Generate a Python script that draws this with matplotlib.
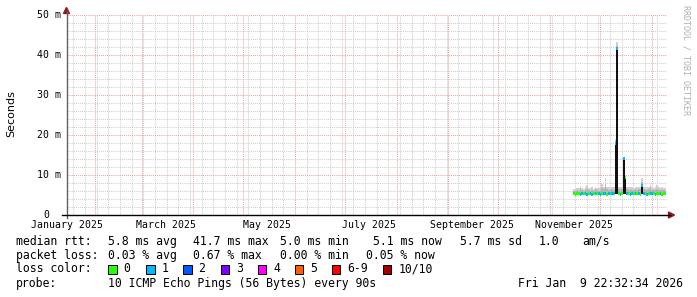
import matplotlib
matplotlib.use('Agg')
import matplotlib.pyplot as plt
import matplotlib.dates as mdates
from matplotlib.ticker import MultipleLocator
from matplotlib.patches import Rectangle, Polygon
import pandas as pd
from datetime import datetime

# ---------------- data ----------------
start = datetime(2025, 1, 14, 22, 32, 34)
end = datetime(2026, 1, 9, 22, 32, 34)

y_ticks = [0, 10, 20, 30, 40, 50]
y_tick_labels = ['0', '10 m', '20 m', '30 m', '40 m', '50 m']

month_labels = ['January 2025', 'March 2025', 'May 2025', 'July 2025',
                'September 2025', 'November 2025']
month_label_dates = ['2025-01-15 12:00', '2025-03-15 12:00', '2025-05-15 12:00',
                     '2025-07-15 12:00', '2025-09-15 12:00', '2025-11-15 12:00']

day_dates = pd.date_range('2025-11-14 22:32', periods=56, freq='D')

median_ms = [5.3, 5.2, 5.3, 5.3, 5.2, 5.3, 5.4, 5.3, 5.2, 5.3,
             5.3, 5.2, 5.3, 5.4, 5.3, 5.3, 5.2, 5.3, 5.3, 5.3,
             5.2, 5.3, 5.4, 5.3, 5.3, 18.0, 41.7, 5.3, 5.2, 5.3,
             14.2, 9.3, 5.3, 5.3, 5.2, 5.3, 5.3, 5.4, 5.3, 5.3,
             5.2, 7.5, 5.3, 5.3, 5.2, 5.3, 5.3, 5.4, 5.3, 5.2,
             5.3, 5.3, 5.3, 5.2, 5.3, 5.3]

smoke_mid = [6.1, 6.0, 6.2, 6.1, 6.4, 6.2, 6.1, 6.3, 6.6, 6.2,
             6.1, 6.3, 6.1, 6.4, 6.2, 6.1, 6.3, 6.7, 6.4, 7.6,
             6.4, 6.3, 6.2, 6.4, 6.3, 18.5, 42.3, 6.4, 6.3, 6.5,
             14.4, 9.7, 6.4, 6.3, 6.5, 6.3, 6.2, 6.4, 6.3, 6.5,
             6.4, 8.2, 6.4, 6.2, 6.3, 6.4, 6.8, 6.3, 6.2, 6.3,
             6.6, 6.3, 6.2, 6.3, 6.2, 6.1]

smoke_hi = [6.6, 6.5, 6.8, 6.7, 7.3, 6.8, 6.6, 6.9, 7.6, 6.8,
            6.7, 6.9, 6.6, 7.0, 6.8, 6.7, 6.9, 7.7, 7.0, 9.2,
            7.0, 6.9, 6.8, 7.0, 6.9, 19.0, 43.3, 7.0, 6.9, 7.1,
            14.6, 10.0, 7.0, 6.9, 7.1, 6.9, 6.8, 7.0, 6.9, 7.1,
            7.0, 9.2, 7.0, 6.8, 6.9, 7.0, 7.6, 6.9, 6.8, 6.9,
            7.4, 6.9, 6.8, 6.9, 6.8, 6.7]

smoke_lo = [5.0, 5.0, 5.0, 5.0, 5.0, 5.0, 5.0, 5.0, 5.0, 5.0,
            5.0, 5.0, 5.0, 5.0, 5.0, 5.0, 5.0, 5.0, 5.0, 5.0,
            5.0, 5.0, 5.0, 5.0, 5.0, 5.2, 5.2, 5.0, 5.0, 5.0,
            5.2, 5.2, 5.0, 5.0, 5.0, 5.0, 5.0, 5.0, 5.0, 5.0,
            5.0, 5.2, 5.0, 5.0, 5.0, 5.0, 5.0, 5.0, 5.0, 5.0,
            5.0, 5.0, 5.0, 5.0, 5.0, 5.0]

loss = [0, 0, 0, 0, 1, 1, 0, 1, 1, 0,
        1, 1, 0, 1, 0, 1, 1, 0, 1, 1,
        0, 1, 0, 1, 1, 1, 1, 0, 1, 0,
        1, 0, 1, 0, 1, 1, 0, 1, 0, 1,
        0, 1, 1, 0, 1, 0, 1, 1, 0, 1,
        0, 0, 1, 0, 0, 0]

loss_colors = ['#26ff00', '#00b8ff', '#0059ff', '#7e00ff',
               '#ff00ff', '#ff5e00', '#ff0000', '#a10000']
loss_color_labels = ['0', '1', '2', '3', '4', '5', '6-9', '10/10']

rtt_stats = ['5.8 ms avg', '41.7 ms max', '5.0 ms min', '5.1 ms now',
             '5.7 ms sd', '1.0', 'am/s']
loss_stats = ['0.03 % avg', '0.67 % max', '0.00 % min', '0.05 % now']
probe_text = '10 ICMP Echo Pings (56 Bytes) every 90s'
stamp_text = 'Fri Jan  9 22:32:34 2026'

# ---------------- drawing ----------------
W, H = 697, 297
MONO = 'DejaVu Sans Mono'
fig = plt.figure(figsize=(W / 100, H / 100), dpi=100)
fig.patch.set_facecolor('white')

L, R, T, B = 66.5, 666.5, 15, 215
ax = fig.add_axes([L / W, 1 - B / H, (R - L) / W, (B - T) / H])
ax.set_facecolor('white')
ax.set_xlim(start, end)
ax.set_ylim(0, 50)
for s in ax.spines.values():
    s.set_visible(False)
ax.tick_params(which='both', length=0, labelbottom=False, labelleft=False)
ax.xaxis.set_major_locator(mdates.MonthLocator())
ax.xaxis.set_minor_locator(mdates.WeekdayLocator(byweekday=mdates.SU))
ax.yaxis.set_major_locator(MultipleLocator(10))
ax.yaxis.set_minor_locator(MultipleLocator(2))
ax.grid(which='minor', color='#cfcfcf', linestyle=(0, (1, 1)), linewidth=0.75)
ax.grid(which='major', color='#f2a0a0', linestyle=(0, (1, 1)), linewidth=0.75)
ax.set_axisbelow(True)

# smoke (light grey + mid grey), dark core, median strip
ax.bar(day_dates, [h - l for h, l in zip(smoke_hi, smoke_lo)], bottom=smoke_lo,
       width=1.0, align='edge', color='#d0d0d0', linewidth=0, zorder=3)
ax.bar(day_dates, [h - l for h, l in zip(smoke_mid, smoke_lo)], bottom=smoke_lo,
       width=1.0, align='edge', color='#b4b4b4', linewidth=0, zorder=3.5)
ax.bar(day_dates, [max(m - l, 0) for m, l in zip(median_ms, smoke_lo)],
       bottom=smoke_lo, width=1.0, align='edge',
       color='#111111', linewidth=0, zorder=4)
strip = 0.75
ax.bar(day_dates, [strip] * len(median_ms),
       bottom=[m - strip / 2 for m in median_ms], width=1.0, align='edge',
       color=[loss_colors[k] for k in loss], linewidth=0, zorder=5)

def px(x, y):
    return x / W, 1 - y / H

# axes lines and arrows
fig.add_artist(plt.Line2D([L / W, L / W], [1 - 218 / H, 1 - 11 / H],
                          color='#606060', linewidth=1.0))
fig.add_artist(plt.Line2D([62 / W, 670 / W], [1 - B / H, 1 - B / H],
                          color='#000000', linewidth=1.0))
fig.add_artist(Polygon([px(L - 3, 13.5), px(L + 3, 13.5), px(L, 7.5)],
                       closed=True, color='#8b1a1a', transform=fig.transFigure))
fig.add_artist(Polygon([px(668.5, B - 3), px(668.5, B + 3), px(674.5, B)],
                       closed=True, color='#8b1a1a', transform=fig.transFigure))

# y tick labels
for v, lab in zip(y_ticks, y_tick_labels):
    yy = B - v * (B - T) / 50
    xr = 49.5 if lab == '0' else 60.5
    fig.text(*px(xr, yy), lab, ha='right', va='center', family=MONO,
             fontsize=7.1, color='#000000')

# x tick labels
for d, lab in zip(month_label_dates, month_labels):
    ax.text(pd.Timestamp(d), -0.05, lab, transform=ax.get_xaxis_transform(),
            ha='center', va='center', family=MONO, fontsize=7.1, clip_on=False)

# axis title and watermark
fig.text(*px(11, 114), 'Seconds', rotation=90, ha='center', va='center',
         family='DejaVu Sans', fontsize=8)
fig.text(*px(686, 5), 'RRDTOOL / TOBI OETIKER', rotation=270, ha='center',
         va='top', family=MONO, fontsize=6.0, color='#b0b0b0')

# legend
LFS = 8.3
rows_y = [241.5, 255.5, 269.0, 283.5]
def ltext(x, y, t, ha='left'):
    fig.text(*px(x, y), t, ha=ha, va='center', family=MONO, fontsize=LFS)

ltext(16, rows_y[0], 'median rtt:')
for x, t in zip([108, 193, 280, 373, 460, 539, 582], rtt_stats):
    ltext(x, rows_y[0], t)
ltext(16, rows_y[1], 'packet loss:')
for x, t in zip([108, 193, 280, 366], loss_stats):
    ltext(x, rows_y[1], t)
ltext(16, rows_y[2], 'loss color:')
for x, c, t in zip([108, 146, 183, 220.5, 257.5, 294.5, 331.5, 383],
                   loss_colors, loss_color_labels):
    fig.add_artist(Rectangle(px(x, rows_y[2] + 4.5), 8.5 / W, 9 / H,
                             facecolor=c, edgecolor='#000000', linewidth=0.7,
                             transform=fig.transFigure))
    ltext(x + 15.5, rows_y[2], t)
ltext(16, rows_y[3], 'probe:')
ltext(108, rows_y[3], probe_text)
ltext(683, rows_y[3], stamp_text, ha='right')

fig.savefig('out.png', dpi=100, facecolor='white')
